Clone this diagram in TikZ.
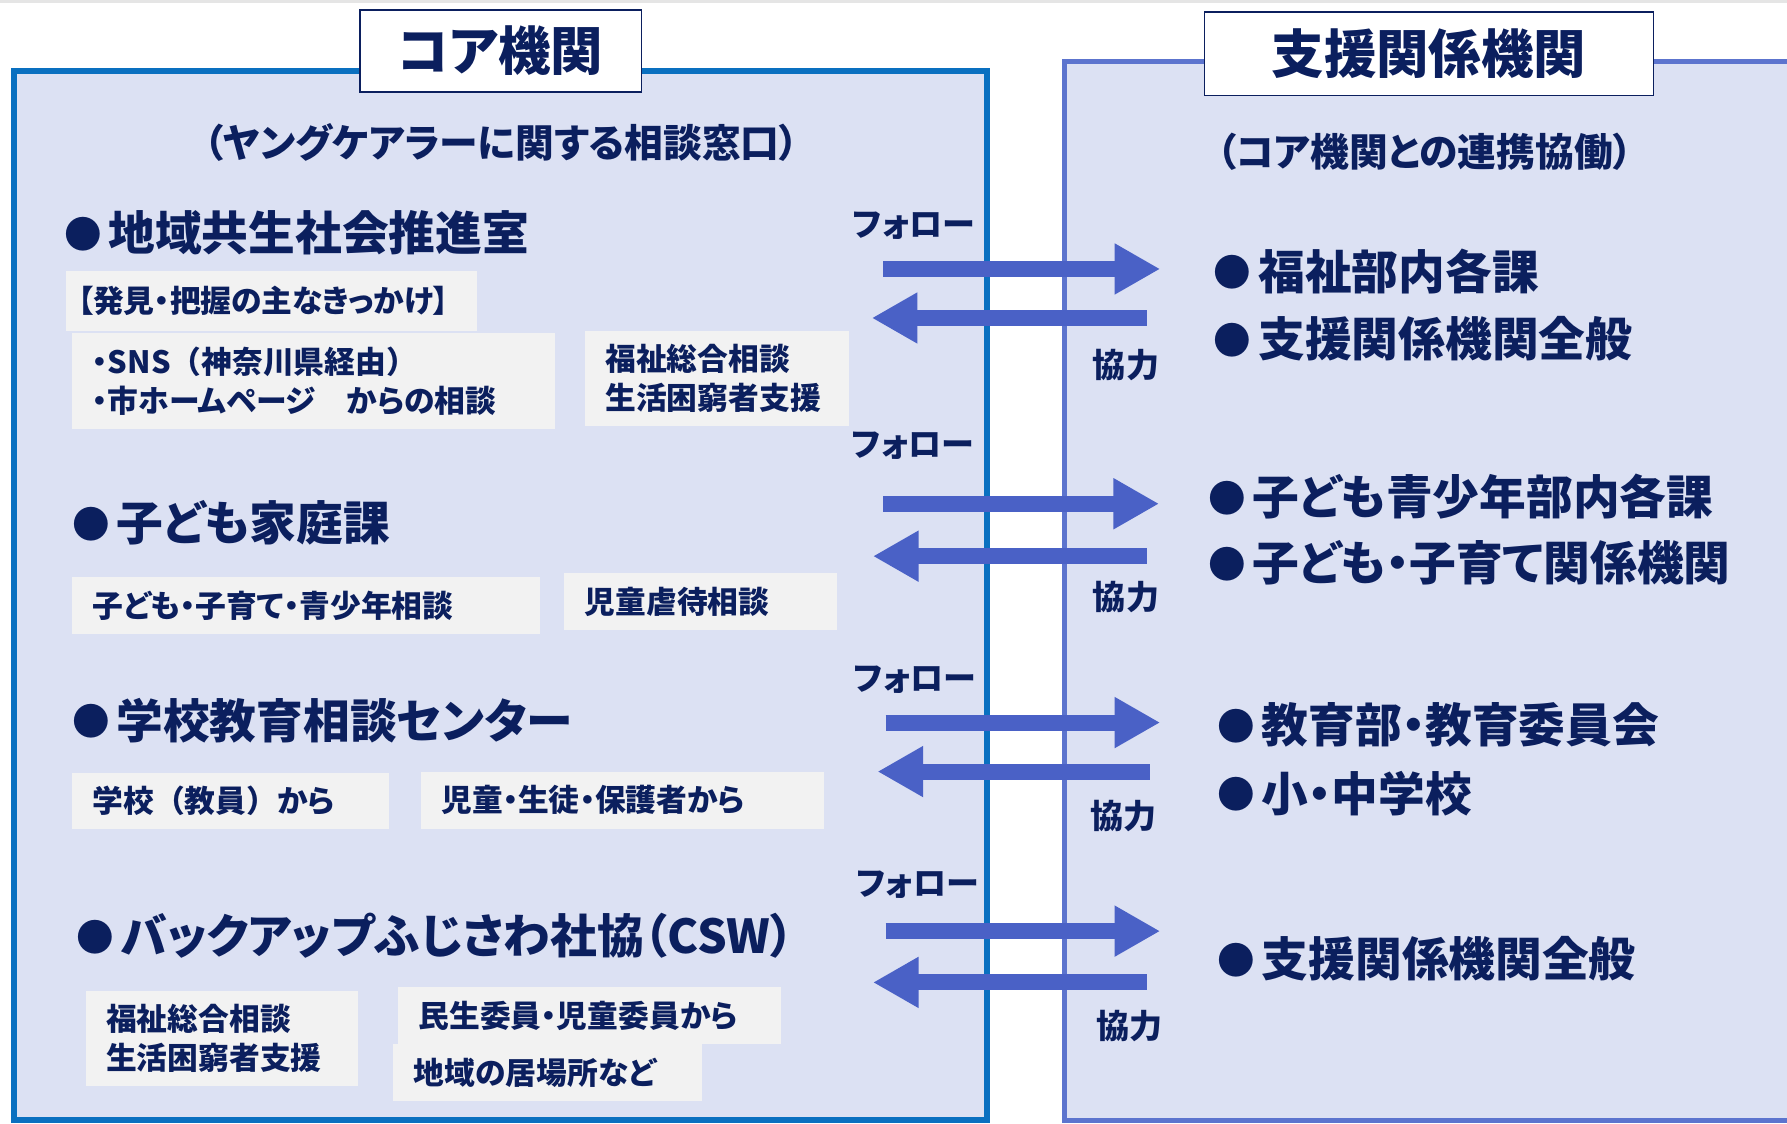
\documentclass[tikz,border=0pt]{standalone}
\usepackage{fontspec}
\setmainfont{Noto Sans CJK JP}[RawFeature=+palt]
\newfontfamily\nopalt{Noto Sans CJK JP}
\usepackage{tikz}
\usetikzlibrary{arrows.meta}

\definecolor{navy}{HTML}{0B1F5E}
\definecolor{panelfill}{HTML}{DCE1F3}
\definecolor{coreblue}{HTML}{0A70C0}
\definecolor{supportblue}{HTML}{5C74CE}
\definecolor{arrowblue}{HTML}{4A61C6}
\definecolor{boxgray}{HTML}{F2F2F2}

\newcommand{\bul}{\raisebox{2pt}{\fontsize{33}{33}\selectfont ●}\hspace{6pt}}

\tikzset{
  titlebox/.style={draw=navy, line width=1.5pt, fill=white, text=navy, inner sep=0pt,
    anchor=north west, font=\bfseries\fontsize{46}{52}\selectfont},
  subline/.style={text=navy, inner sep=0pt, font=\bfseries\fontsize{34}{40}\selectfont},
  head/.style={text=navy, inner sep=0pt, anchor=west, font=\bfseries\fontsize{41}{48}\selectfont},
  memo/.style={fill=boxgray, text=navy, anchor=north west, align=left,
    inner xsep=18pt, inner ysep=0pt, font=\bfseries\fontsize{27}{34}\selectfont},
  linktext/.style={text=navy, inner sep=0pt, font=\bfseries\fontsize{29}{34}\selectfont},
  flow/.style={draw=arrowblue, line width=14pt, -{Triangle[length=40pt,width=42pt]}}
}

\begin{document}
\begin{tikzpicture}[x=1pt, y=-1pt]
\useasboundingbox (0,0) rectangle (1568,986);
\fill[black!10] (0,0) rectangle (1568,3);

%% PANELS
\draw[coreblue, line width=5pt, fill=panelfill] (12,62) rectangle (866,983);
\draw[supportblue, line width=4.5pt, fill=panelfill] (934,54) rectangle (1595,983);

\node[titlebox, minimum width=247pt, minimum height=72pt](core_title) at (315,8){コア機関};
\node[titlebox, minimum width=394pt, minimum height=73pt](support_title) at (1056,10){支援関係機関};

\node[subline](core_sub) at (440,125){（ヤングケアラーに関する相談窓口）};
\node[subline](support_sub) at (1250,133){（コア機関との連携協働）};

%% CORE ORGANISATIONS
\node[head](chiiki) at (56,204){\bul 地域共生社会推進室};
\node[memo, inner xsep=10pt, text width=340pt, minimum height=52pt](chiiki_hint) at (58,238){【発見・把握の主なきっかけ】};
\node[memo, text width=388pt, minimum height=84pt](chiiki_sns) at (63,292){・SNS{\nopalt（}神奈川県経由{\nopalt）}\\・市ホームページ　からの相談};
\node[memo, text width=196pt, minimum height=84pt](chiiki_fukushi) at (513,290){福祉総合相談\\生活困窮者支援};

\node[head](kodomo) at (63,459){\bul 子ども家庭課};
\node[memo, text width=375pt, minimum height=50pt](kodomo_soudan) at (63,506){子ども・子育て・青少年相談};
\node[memo, text width=203pt, minimum height=50pt](kodomo_gyakutai) at (495,503){児童虐待相談};

\node[head](gakko) at (63,632){\bul 学校教育相談センター};
\node[memo, text width=242pt, minimum height=49pt](gakko_kyoin) at (63,678){学校{\nopalt（}教員{\nopalt）}から};
\node[memo, text width=318pt, minimum height=50pt](gakko_jido) at (369,677){児童・生徒・保護者から};

\node[head](csw) at (67,821){\bul バックアップふじさわ社協（CSW）};
\node[memo, text width=203pt, minimum height=84pt](csw_fukushi) at (75,869){福祉総合相談\\生活困窮者支援};
\node[memo, text width=300pt, minimum height=50pt](csw_minsei) at (349,866){民生委員・児童委員から};
\node[memo, text width=235pt, minimum height=50pt](csw_ibasho) at (345,916){地域の居場所など};

%% SUPPORT ORGANISATIONS
\node[head](sup_fukushi) at (1065,238){\bul 福祉部内各課};
\node[head](sup_zenpan_a) at (1065,297){\bul 支援関係機関全般};
\node[head](sup_seishonen) at (1060,436){\bul 子ども青少年部内各課};
\node[head](sup_kosodate) at (1060,494){\bul 子ども・子育て関係機関};
\node[head](sup_kyoiku) at (1068,636){\bul 教育部・教育委員会};
\node[head](sup_shochu) at (1068,696){\bul 小・中学校};
\node[head](sup_zenpan_b) at (1068,841){\bul 支援関係機関全般};

%% FOLLOW / COOPERATE
\coordinate (follow_a_s) at (775,236); \coordinate (follow_a_e) at (1018,236);
\coordinate (coop_a_s) at (1006,279);  \coordinate (coop_a_e) at (765,279);
\coordinate (follow_b_s) at (775,442); \coordinate (follow_b_e) at (1017,442);
\coordinate (coop_b_s) at (1006,488);  \coordinate (coop_b_e) at (766,488);
\coordinate (follow_c_s) at (777,634); \coordinate (follow_c_e) at (1018,634);
\coordinate (coop_c_s) at (1009,677);  \coordinate (coop_c_e) at (770,677);
\coordinate (follow_d_s) at (777,817); \coordinate (follow_d_e) at (1018,817);
\coordinate (coop_d_s) at (1006,862);  \coordinate (coop_d_e) at (766,862);

\draw[flow] (follow_a_s) -- (follow_a_e);
\draw[flow] (coop_a_s) -- (coop_a_e);
\draw[flow] (follow_b_s) -- (follow_b_e);
\draw[flow] (coop_b_s) -- (coop_b_e);
\draw[flow] (follow_c_s) -- (follow_c_e);
\draw[flow] (coop_c_s) -- (coop_c_e);
\draw[flow] (follow_d_s) -- (follow_d_e);
\draw[flow] (coop_d_s) -- (coop_d_e);

\node[linktext](follow_a) at (802,198){フォロー};
\node[linktext](coop_a) at (988,320){協力};
\node[linktext](follow_b) at (801,391){フォロー};
\node[linktext](coop_b) at (988,524){協力};
\node[linktext](follow_c) at (803,596){フォロー};
\node[linktext](coop_c) at (986,716){協力};
\node[linktext](follow_d) at (805,776){フォロー};
\node[linktext](coop_d) at (991,900){協力};

\end{tikzpicture}
\end{document}
